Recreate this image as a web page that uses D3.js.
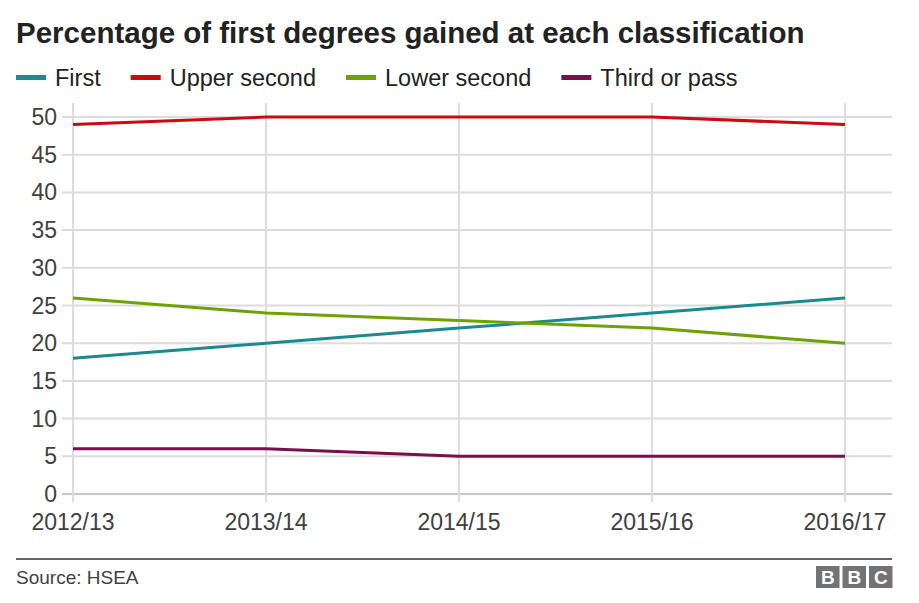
<!DOCTYPE html>
<html><head><meta charset="utf-8">
<script src="https://cdn.jsdelivr.net/npm/d3@7"></script>
<style>body{margin:0;background:#fff;font-family:"Liberation Sans",Arial,sans-serif;}</style>
</head><body>
<svg id="c" width="919" height="603"></svg>
<script>
const categories = ["2012/13","2013/14","2014/15","2015/16","2016/17"];
const seriesNames = ["First","Upper second","Lower second","Third or pass"];
const seriesColors = ["#1a8a8f","#cc0a11","#6ea204","#7b0e4f"];
const firstVals = [18,20,22,24,26];
const upperVals = [49,50,50,50,49];
const lowerVals = [26,24,23,22,20];
const thirdVals = [6,6,5,5,5];
const yTicks = [0,5,10,15,20,25,30,35,40,45,50];
const title = "Percentage of first degrees gained at each classification";
const source = "Source: HSEA";

const allSeries = [firstVals, upperVals, lowerVals, thirdVals];
const svg = d3.select("#c");
const x = d3.scalePoint().domain(categories).range([73,845]);
const y = d3.scaleLinear().domain([0,50]).range([494,117]);

svg.append("text").attr("x",16).attr("y",43).attr("font-size",29.5).attr("font-weight","bold")
  .attr("fill","#222").text(title);

// legend
let lx = 16;
const leg = svg.append("g");
seriesNames.forEach((n,i)=>{
  leg.append("rect").attr("x",lx).attr("y",75).attr("width",30).attr("height",5).attr("fill",seriesColors[i]);
  const t = leg.append("text").attr("x",lx+39).attr("y",86).attr("font-size",23.5).attr("fill","#222").text(n);
  lx += 39 + t.node().getComputedTextLength() + 30;
});

// horizontal grid
svg.append("g").selectAll("line").data(yTicks).join("line")
  .attr("x1",62).attr("x2",892).attr("y1",d=>y(d)).attr("y2",d=>y(d))
  .attr("stroke",d=>d===0?"#c8c8c8":"#dcdcdc").attr("stroke-width",2);
// vertical grid
svg.append("g").selectAll("line").data(categories).join("line")
  .attr("x1",d=>x(d)).attr("x2",d=>x(d)).attr("y1",103).attr("y2",502)
  .attr("stroke","#dcdcdc").attr("stroke-width",2);

// y labels
svg.append("g").selectAll("text").data(yTicks).join("text")
  .attr("x",57).attr("y",d=>y(d)+8).attr("text-anchor","end").attr("font-size",23).attr("fill","#404040")
  .text(d=>d);
// x labels
svg.append("g").selectAll("text").data(categories).join("text")
  .attr("x",d=>x(d)).attr("text-anchor","middle")
  .attr("y",530).attr("font-size",23).attr("fill","#404040").text(d=>d);

const line = d3.line().x((d,i)=>x(categories[i])).y(d=>y(d));
allSeries.forEach((s,i)=>{
  svg.append("path").datum(s).attr("d",line).attr("fill","none")
    .attr("stroke",seriesColors[i]).attr("stroke-width",3);
});

// footer
svg.append("line").attr("x1",16).attr("x2",892).attr("y1",559).attr("y2",559).attr("stroke","#333").attr("stroke-width",1.5);
svg.append("text").attr("x",16).attr("y",584).attr("font-size",19).attr("fill","#404040").text(source);
const bbc = svg.append("g");
["B","B","C"].forEach((c,i)=>{
  const bx = 816 + i*26.5;
  bbc.append("rect").attr("x",bx).attr("y",566).attr("width",23.5).attr("height",22).attr("fill","#737373");
  bbc.append("text").attr("x",bx+11.75).attr("y",584).attr("text-anchor","middle").attr("font-size",19)
    .attr("font-weight","bold").attr("fill","#fff").text(c);
});
</script>
</body></html>
